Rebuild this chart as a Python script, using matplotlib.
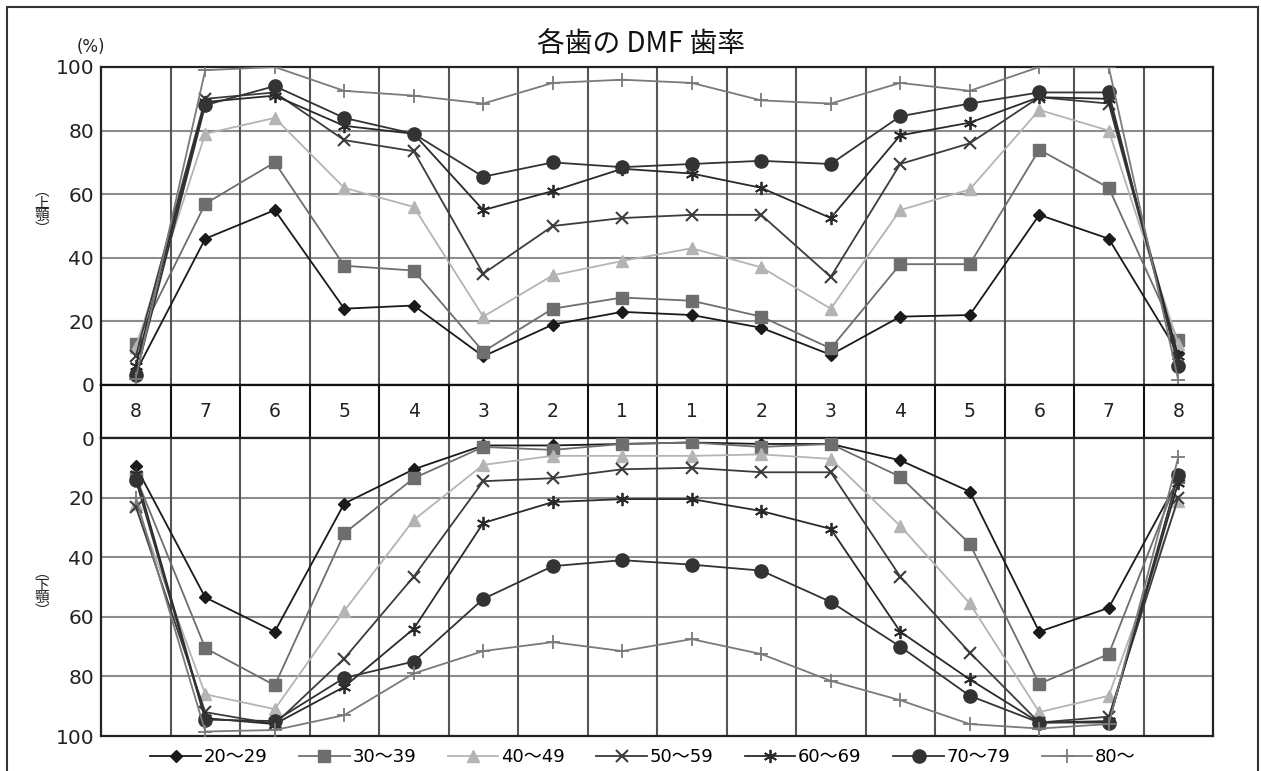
import matplotlib
matplotlib.use("Agg")
import matplotlib.pyplot as plt
from matplotlib.lines import Line2D
from matplotlib.patches import Rectangle
import numpy as np

plt.rcParams['font.family'] = ['DejaVu Sans', 'Noto Sans CJK JP']

teeth = ['8', '7', '6', '5', '4', '3', '2', '1', '1', '2', '3', '4', '5', '6', '7', '8']
age_groups = ['20～29', '30～39', '40～49', '50～59', '60～69', '70～79', '80～']

upper_20 = [4, 46, 55, 24, 25, 9, 19, 23, 22, 18, 9.5, 21.5, 22, 53.5, 46, 10]
upper_30 = [13, 57, 70, 37.5, 36, 10.5, 24, 27.5, 26.5, 21.5, 11.5, 38, 38, 74, 62, 14]
upper_40 = [12, 79, 84, 62, 56, 21.5, 34.5, 39, 43, 37, 24, 55, 61.5, 86.5, 80, 13]
upper_50 = [9, 90, 92, 77, 73.5, 35, 50, 52.5, 53.5, 53.5, 34, 69.5, 76, 90.5, 88.5, 8]
upper_60 = [6, 89, 91, 81.5, 79, 55, 61, 68, 66.5, 62, 52.5, 78.5, 82.5, 90.5, 90, 9]
upper_70 = [3, 88, 94, 84, 79, 65.5, 70, 68.5, 69.5, 70.5, 69.5, 84.5, 88.5, 92, 92, 6]
upper_80 = [2, 99, 100, 92.5, 91, 88.5, 95, 96, 95, 89.5, 88.5, 95, 92.5, 100, 100, 1.5]

lower_20 = [9.5, 53.5, 65, 22, 10.5, 2.5, 2.5, 2, 1.5, 2, 2, 7.5, 18, 65, 57, 14]
lower_30 = [13, 70.5, 83, 32, 13.5, 3, 4, 2, 1.5, 3, 2, 13, 35.5, 82.5, 72.5, 13]
lower_40 = [22, 86, 91, 58, 27.5, 9, 6, 6, 6, 5.5, 7, 29.5, 55.5, 92, 86.5, 21]
lower_50 = [23, 92, 96, 74, 46.5, 14.5, 13.5, 10.5, 10, 11.5, 11.5, 46.5, 72, 95.5, 93.5, 20]
lower_60 = [12, 94, 96, 83.5, 64, 28.5, 21.5, 20.5, 20.5, 24.5, 30.5, 65, 81, 95.5, 95, 15]
lower_70 = [14, 94.5, 95, 80.5, 75, 54, 43, 41, 42.5, 44.5, 55, 70, 86.5, 95.5, 95.5, 12.5]
lower_80 = [20, 98.5, 98, 93, 79, 71.5, 68.5, 71.5, 67.5, 72.5, 81.5, 88, 96, 97.5, 96, 6.5]

upper = [upper_20, upper_30, upper_40, upper_50, upper_60, upper_70, upper_80]
lower = [lower_20, lower_30, lower_40, lower_50, lower_60, lower_70, lower_80]
yticks = [0, 20, 40, 60, 80, 100]

styles = [
    dict(color='#1a1a1a', marker='D', markersize=6.5),
    dict(color='#6e6e6e', marker='s', markersize=8.5),
    dict(color='#b4b4b4', marker='^', markersize=8.5),
    dict(color='#3c3c3c', marker='x', markersize=8.5, markeredgewidth=1.5),
    dict(color='#2a2a2a', marker=(6, 2, 0), markersize=9.5, markeredgewidth=1.3),
    dict(color='#333333', marker='o', markersize=9.5),
    dict(color='#7a7a7a', marker='+', markersize=9.5, markeredgewidth=1.3),
]

W, H = 1261, 771
fig = plt.figure(figsize=(W / 100, H / 100), dpi=100)

def fr(x0, y0, x1, y1):
    return [x0 / W, 1 - y1 / H, (x1 - x0) / W, (y1 - y0) / H]

L, R = 101, 1213
ax_u = fig.add_axes(fr(L, 67, R, 385))
ax_t = fig.add_axes(fr(L, 385, R, 438))
ax_l = fig.add_axes(fr(L, 438, R, 736))

x = np.arange(len(teeth))
bounds = np.arange(0.5, len(teeth) - 1, 1.0)

for ax, data in ((ax_u, upper), (ax_l, lower)):
    ax.set_xlim(-0.5, len(teeth) - 0.5)
    ax.set_ylim(0, 100)
    for v in yticks[1:-1]:
        ax.axhline(v, color='#8c8c8c', lw=1.5, zorder=1)
    for b in bounds:
        ax.axvline(b, color='#555555', lw=1.5, zorder=1)
    for vals, st in zip(data, styles):
        ax.plot(x, vals, lw=1.3, zorder=3, **st)
    ax.set_xticks([])
    ax.set_yticks(yticks)
    ax.tick_params(axis='y', length=0, labelsize=14.5, colors='#222222', pad=5)
    for s in ax.spines.values():
        s.set_color('#222222')
        s.set_linewidth(1.6)

ax_l.invert_yaxis()

ax_t.set_xlim(-0.5, len(teeth) - 0.5)
ax_t.set_ylim(0, 1)
for b in bounds:
    ax_t.axvline(b, color='#111111', lw=1.5)
for i, t in enumerate(teeth):
    ax_t.text(i, 0.5, t, ha='center', va='center', fontsize=13.5, color='#222222')
ax_t.set_xticks([])
ax_t.set_yticks([])
for s in ax_t.spines.values():
    s.set_color('#111111')
    s.set_linewidth(1.6)

cjk = ['Noto Sans CJK JP', 'DejaVu Sans']
fig.text(0.508, 1 - 44 / H, '各歯の DMF 歯率', ha='center', va='center', fontsize=20,
         family=cjk, color='#111111')
fig.text(91 / W, 1 - 47 / H, '(%)', ha='center', va='center', fontsize=12, color='#222222')

def vlabel(cx, cy, chars):
    step = 12.5
    n = len(chars)
    for k, ch in enumerate(chars):
        yy = cy + (k - (n - 1) / 2) * step
        fig.text(cx / W, 1 - yy / H, ch, ha='center', va='center', fontsize=10.5,
                 family=cjk, color='#222222')

vlabel(42, 210, ['︵', '上', '顎', '︶'])
vlabel(42, 592, ['︵', '下', '顎', '︶'])

handles = [Line2D([], [], lw=1.3, **st) for st in styles]
fig.legend(handles, age_groups, loc='center', bbox_to_anchor=(0.51, 1 - 757 / H), ncol=7,
           frameon=False, fontsize=13, handlelength=2.8, columnspacing=1.75, handletextpad=0.15,
           borderaxespad=0)

fig.patches.append(Rectangle((7 / W, -0.02), 1251 / W, 1.02 - 7 / H, transform=fig.transFigure,
                             fill=False, edgecolor='#333333', lw=1.5))

fig.savefig('out.png', dpi=100)
